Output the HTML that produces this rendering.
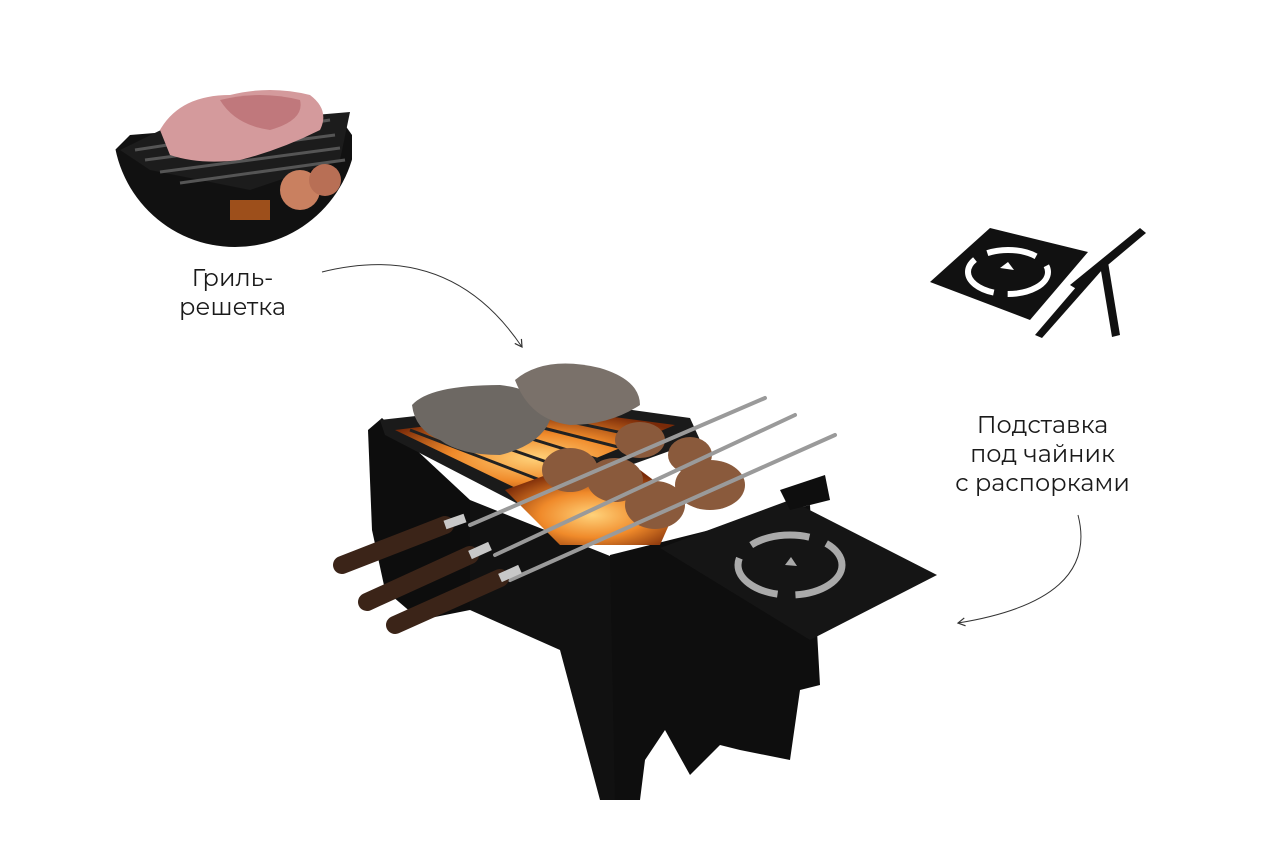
<!DOCTYPE html>
<html><head><meta charset="utf-8"><style>
html,body{margin:0;padding:0;background:#fff;}
.wrap{position:relative;width:1280px;height:853px;overflow:hidden;background:#fff;}
.t{position:absolute;font-family:"Montserrat","Liberation Sans",sans-serif;font-size:24px;color:#1a1a1a;text-align:center;line-height:29px;}
svg{position:absolute;left:0;top:0;}
</style></head><body><div class="wrap">
<svg width="1280" height="853" viewBox="0 0 1280 853">
<defs>
<clipPath id="c"><circle cx="235" cy="125" r="122"/></clipPath>
<radialGradient id="fire" cx="0.5" cy="0.6" r="0.6"><stop offset="0" stop-color="#ffd27a"/><stop offset="0.5" stop-color="#f08a2a"/><stop offset="1" stop-color="#7a2a08"/></radialGradient>
<marker id="ah" markerWidth="10" markerHeight="10" refX="8" refY="5" orient="auto"><path d="M1,1 L8,5 L1,9" fill="none" stroke="#333" stroke-width="1.2"/></marker>
</defs>
<!-- inset circle -->
<g clip-path="url(#c)">
<polygon points="115,150 130,135 340,118 352,135 352,250 115,250" fill="#111"/>
<polygon points="120,150 165,128 350,112 340,160 250,190 150,170" fill="#1c1c1c"/>
<g stroke="#555" stroke-width="3">
<line x1="135" y1="150" x2="330" y2="120"/><line x1="145" y1="160" x2="335" y2="135"/><line x1="160" y1="172" x2="340" y2="148"/><line x1="180" y1="183" x2="345" y2="160"/>
</g>
<path d="M160,130 Q180,95 230,95 Q270,85 310,95 Q330,110 320,130 Q280,150 240,160 Q200,165 170,155 Z" fill="#d49a9c"/>
<path d="M220,100 Q260,90 300,100 Q305,120 270,130 Q235,125 220,100Z" fill="#c0787c"/>
<circle cx="300" cy="190" r="20" fill="#c98060"/><circle cx="325" cy="180" r="16" fill="#b86f55"/>
<rect x="230" y="200" width="40" height="20" fill="#d96a20" opacity="0.7"/>
</g>
<!-- arrows -->
<path d="M322,272 Q450,240 522,347" fill="none" stroke="#333" stroke-width="1" marker-end="url(#ah)"/>
<path d="M1078,515 Q1100,600 958,623" fill="none" stroke="#333" stroke-width="1" marker-end="url(#ah)"/>
<!-- stand icon -->
<polygon points="930,282 990,228 1088,252 1030,320" fill="#111"/>
<ellipse cx="1008" cy="272" rx="40" ry="22" fill="none" stroke="#fff" stroke-width="6" stroke-dasharray="50 14"/>
<path d="M1000,268 l8,-6 l6,8 z" fill="#fff"/>
<polygon points="1070,285 1140,228 1146,233 1078,290" fill="#111"/>
<polygon points="1035,335 1095,265 1102,270 1042,338" fill="#111"/>
<polygon points="1100,265 1108,262 1120,335 1112,337" fill="#111"/>
<!-- main grill -->
<polygon points="368,430 382,418 470,500 470,610 420,620 385,590 372,530" fill="#0d0d0d"/>
<polygon points="470,500 620,560 615,800 600,800 560,650 470,610" fill="#111"/>
<polygon points="610,555 810,505 820,685 800,690 790,760 740,750 720,745 690,775 665,730 645,760 640,800 615,800" fill="#0e0e0e"/>
<polygon points="380,420 560,400 690,418 700,440 520,505 385,435" fill="#1a1a1a"/>
<polygon points="395,430 560,410 675,425 520,490" fill="url(#fire)"/>
<g stroke="#222" stroke-width="3">
<line x1="410" y1="430" x2="540" y2="480"/><line x1="440" y1="425" x2="570" y2="470"/><line x1="470" y1="420" x2="600" y2="460"/><line x1="500" y1="417" x2="630" y2="450"/><line x1="530" y1="413" x2="655" y2="440"/>
</g>
<polygon points="505,490 560,470 640,470 680,500 660,545 560,545" fill="url(#fire)"/>
<path d="M412,405 Q430,385 500,385 Q545,390 550,420 Q540,445 500,455 Q460,455 440,440 Q415,430 412,405Z" fill="#6d6863"/>
<path d="M515,380 Q545,355 600,368 Q640,380 640,405 Q610,425 570,425 Q530,420 515,380Z" fill="#7a716a"/>
<g fill="#8a5a3c">
<ellipse cx="570" cy="470" rx="28" ry="22"/><ellipse cx="615" cy="480" rx="28" ry="22"/><ellipse cx="655" cy="505" rx="30" ry="24"/><ellipse cx="710" cy="485" rx="35" ry="25"/><ellipse cx="690" cy="455" rx="22" ry="18"/><ellipse cx="640" cy="440" rx="25" ry="18"/>
</g>
<g stroke="#9a9a9a" stroke-width="4" stroke-linecap="round">
<line x1="470" y1="525" x2="765" y2="398"/><line x1="495" y1="555" x2="795" y2="415"/><line x1="510" y1="580" x2="835" y2="435"/>
</g>
<g stroke="#3b2418" stroke-width="18" stroke-linecap="round">
<line x1="342" y1="565" x2="445" y2="525"/><line x1="367" y1="602" x2="470" y2="555"/><line x1="395" y1="625" x2="500" y2="578"/>
</g>
<g stroke="#c8c8c8" stroke-width="9"><line x1="445" y1="525" x2="465" y2="518"/><line x1="470" y1="555" x2="490" y2="546"/><line x1="500" y1="578" x2="520" y2="569"/></g>
<!-- side plate -->
<polygon points="660,548 790,500 937,575 810,640" fill="#151515"/>
<ellipse cx="790" cy="565" rx="52" ry="30" fill="none" stroke="#aaa" stroke-width="7" stroke-dasharray="60 18"/>
<path d="M785,565 l6,-8 l6,9 z" fill="#aaa"/>
<polygon points="780,490 825,475 830,500 790,510" fill="#0e0e0e"/>
</svg>
<div class="t" style="left:140px;top:264px;width:185px;">Гриль-<br>решетка</div>
<div class="t" style="left:940px;top:411px;width:205px;">Подставка<br>под чайник<br>с распорками</div>
</div></body></html>
